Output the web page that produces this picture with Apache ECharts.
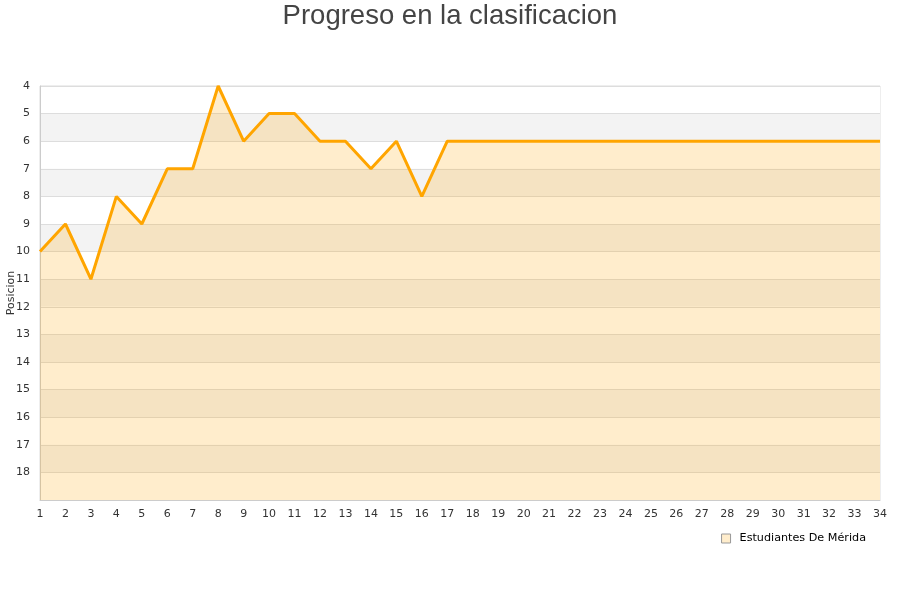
<!DOCTYPE html>
<html><head><meta charset="utf-8">
<script src="https://cdn.jsdelivr.net/npm/echarts@6/dist/echarts.min.js"></script>
<style>html,body{margin:0;padding:0;background:#fff}#c{width:900px;height:600px}</style>
</head><body><div id="c"></div>
<script>
const titleText = "Progreso en la clasificacion";
const seriesName = "Estudiantes De Mérida";
const jornadas = ["1","2","3","4","5","6","7","8","9","10","11","12","13","14","15","16","17","18","19","20","21","22","23","24","25","26","27","28","29","30","31","32","33","34"];
const posiciones = [10,9,11,8,9,7,7,4,6,5,5,6,6,7,6,8,6,6,6,6,6,6,6,6,6,6,6,6,6,6,6,6,6,6];
const yMin = 4, yMax = 19;

const chart = echarts.init(document.getElementById('c'));
chart.setOption({
  animation: false,
  title: { text: titleText, left: 'center', top: -3,
    textStyle: { fontFamily: 'Liberation Sans', fontSize: 27.5, fontWeight: 'normal', color: '#444' } },
  grid: { left: 40, right: 20, top: 86, bottom: 100, outerBoundsMode: 'none', containLabel: false,
    show: true, borderColor: '#ddd', borderWidth: 1, backgroundColor: 'transparent' },
  legend: { right: 29, top: 528, itemWidth: 9, itemHeight: 9, icon: 'rect',
    textStyle: { fontFamily: 'DejaVu Sans', fontSize: 11.2, color: '#000', padding: [0, 0, 0, 4] },
    data: [{ name: seriesName, itemStyle: { color: '#ffedcc', borderColor: '#999', borderWidth: 1 } }] },
  xAxis: { type: 'category', data: jornadas, boundaryGap: false,
    axisLine: { lineStyle: { color: '#ccc' } }, axisTick: { show: false },
    axisLabel: { fontFamily: 'DejaVu Sans', fontSize: 11, color: '#333', margin: 9, interval: 0 },
    splitLine: { show: false } },
  yAxis: { type: 'value', inverse: true, min: yMin, max: yMax, interval: 1,
    name: 'Posicion', nameLocation: 'middle', nameGap: 23, nameRotate: 90, nameMoveOverlap: false,
    nameTextStyle: { fontFamily: 'DejaVu Sans', fontSize: 11, color: '#333' },
    axisLine: { show: true, lineStyle: { color: '#ccc' } }, axisTick: { show: false },
    axisLabel: { fontFamily: 'DejaVu Sans', fontSize: 11, color: '#333', margin: 10,
      formatter: v => v === yMax ? '' : String(v) },
    splitLine: { lineStyle: { color: '#ddd' } },
    splitArea: { show: true, areaStyle: { color: ['#ffffff', '#f3f3f3'], opacity: 1 } } },
  series: [{ name: seriesName, type: 'line', data: posiciones, showSymbol: false, symbol: 'none',
    lineStyle: { color: '#ffa500', width: 3 }, itemStyle: { color: '#ffa500' },
    areaStyle: { color: '#ffa500', opacity: 0.2, origin: 'end' } }]
});
</script></body></html>
